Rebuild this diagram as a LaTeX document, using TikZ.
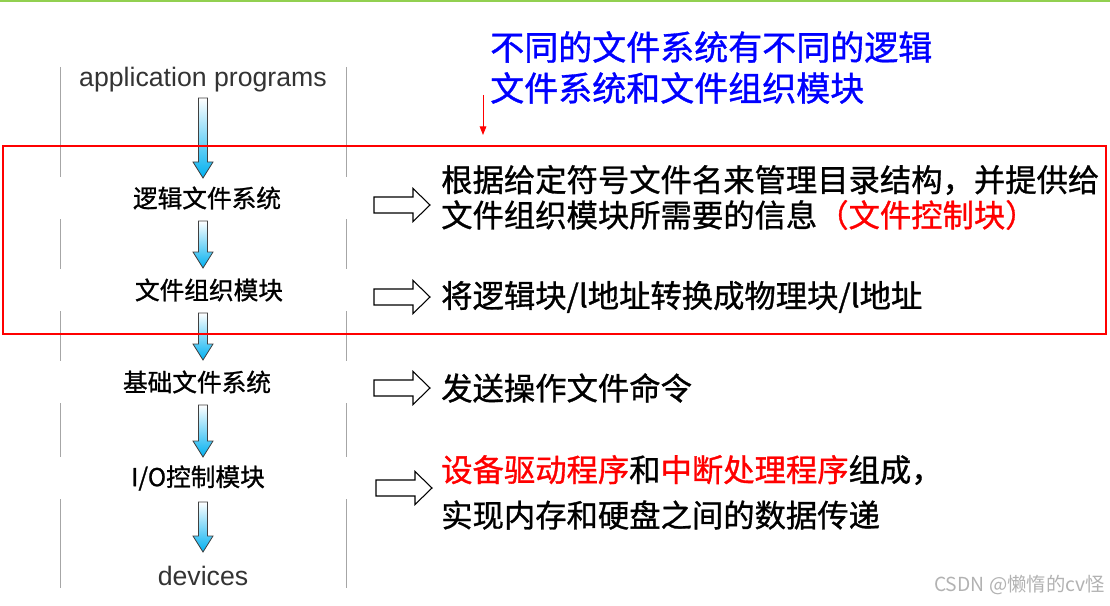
\documentclass[tikz,border=0pt]{standalone}
\usepackage{fontspec}
\setmainfont{Noto Sans CJK SC}
\newfontfamily\heavycjk{Noto Sans CJK SC}[FakeBold=1]
\newfontfamily\latinsans{Liberation Sans}
\usetikzlibrary{calc,arrows.meta}

\definecolor{topgreen}{RGB}{146,208,80}
\definecolor{shaftblue}{RGB}{0,176,240}
\definecolor{labelgray}{RGB}{51,51,51}
\definecolor{notered}{RGB}{255,0,0}
\definecolor{noteblue}{RGB}{0,0,255}

%% block arrow pointing down, from #1 to #2
\newcommand{\downflow}[2]{%
  \path[flowarrow] let \p1=(#1), \p2=(#2) in
    (\x1-3.4pt,\y1) -- (\x1-3.4pt,\y2+12pt) -- (\x1-7.5pt,\y2+12pt) -- (\x1,\y2)
    -- (\x1+7.5pt,\y2+12pt) -- (\x1+3.4pt,\y2+12pt) -- (\x1+3.4pt,\y1) -- cycle;}

%% hollow arrow pointing right, from #1 to #2
\newcommand{\rightflow}[2]{%
  \path[hollowarrow] let \p1=(#1), \p2=(#2) in
    (\x1,\y1+6pt) -- (\x2-12.75pt,\y1+6pt) -- (\x2-12.75pt,\y1+12.4pt) -- (\x2,\y1)
    -- (\x2-12.75pt,\y1-12.4pt) -- (\x2-12.75pt,\y1-6pt) -- (\x1,\y1-6pt) -- cycle;}

\begin{document}
\begin{tikzpicture}[x=0.75pt,y=-0.75pt,
  layer/.style={font=\heavycjk\fontsize{18.5}{22}\selectfont, fill=white, minimum width=232pt, minimum height=31.5pt, inner sep=0pt},
  endlabel/.style={font=\latinsans\fontsize{20}{24}\selectfont, text=labelgray, inner sep=0pt},
  note/.style={font=\heavycjk\fontsize{23.5}{28}\selectfont, anchor=west, inner sep=0pt},
  headline/.style={font=\heavycjk\fontsize{25.5}{30}\selectfont, text=noteblue, anchor=west, inner sep=0pt},
  flowarrow/.style={draw=black!75, line width=0.6pt, top color=white, bottom color=shaftblue},
  hollowarrow/.style={draw=black, line width=0.8pt, fill=white}]

\useasboundingbox (0,0) rectangle (1110,606);

%% top rule
\draw[topgreen, line width=2.25pt] (0,1) -- (1110,1);

%% column guides
\draw[black!35, line width=0.6pt] (60,67) -- (60,588);
\draw[black!35, line width=0.6pt] (346,67) -- (346,588);

%% layers
\node[endlabel] (app) at (203,80) {application programs};
\node[layer] (logical) at (207,198) {逻辑文件系统};
\node[layer] (organize) at (209,290) {文件组织模块};
\node[layer] (basic) at (197,382) {基础文件系统};
\node[layer] (ioctl) at (198,478) {I/O控制模块};
\node[endlabel] (devices) at (203,576) {devices};

%% flow between layers
\coordinate (a1s) at (203,98);  \coordinate (a1e) at (203,178);
\coordinate (a2s) at (203,221); \coordinate (a2e) at (203,268);
\coordinate (a3s) at (203,313); \coordinate (a3e) at (203,360);
\coordinate (a4s) at (203,405); \coordinate (a4e) at (203,457);
\coordinate (a5s) at (203,502); \coordinate (a5e) at (203,552);
\downflow{a1s}{a1e}
\downflow{a2s}{a2e}
\downflow{a3s}{a3e}
\downflow{a4s}{a4e}
\downflow{a5s}{a5e}

%% what each layer does
\coordinate (h1s) at (374,205); \coordinate (h1e) at (430,205);
\coordinate (h2s) at (374,297); \coordinate (h2e) at (430,297);
\coordinate (h3s) at (374,388); \coordinate (h3e) at (430,388);
\coordinate (h4s) at (376,488); \coordinate (h4e) at (432,488);
\rightflow{h1s}{h1e}
\rightflow{h2s}{h2e}
\rightflow{h3s}{h3e}
\rightflow{h4s}{h4e}

\node[note] (role1) at (441,180) {根据给定符号文件名来管理目录结构，并提供给};
\node[note] (role1b) at (441,215) {文件组织模块所需要的信息\textcolor{notered}{（文件控制块）}};
\node[note] (role2) at (441,297) {将逻辑块/l地址转换成物理块/l地址};
\node[note] (role3) at (441,388) {发送操作文件命令};
\node[note] (role4) at (441,470) {\textcolor{notered}{设备驱动程序}和\textcolor{notered}{中断处理程序}组成，};
\node[note] (role4b) at (441,515) {实现内存和硬盘之间的数据传递};

%% remark on top
\node[headline] (head1) at (490,47) {不同的文件系统有不同的逻辑};
\node[headline] (head2) at (490,88) {文件系统和文件组织模块};
\coordinate (ptop) at (483,95);
\coordinate (pbot) at (483,135);
\draw[notered, line width=0.75pt, -{Triangle[width=5pt,length=6.5pt]}] (ptop) -- (pbot);

%% highlighted layers
\draw[notered, line width=1.5pt] (3,146) rectangle (1106,334);

\node[anchor=east, text=black!30, font=\fontsize{14.5}{17}\selectfont, inner sep=0pt] (mark) at (1105,585) {CSDN @懒惰的cv怪};
\end{tikzpicture}
\end{document}
